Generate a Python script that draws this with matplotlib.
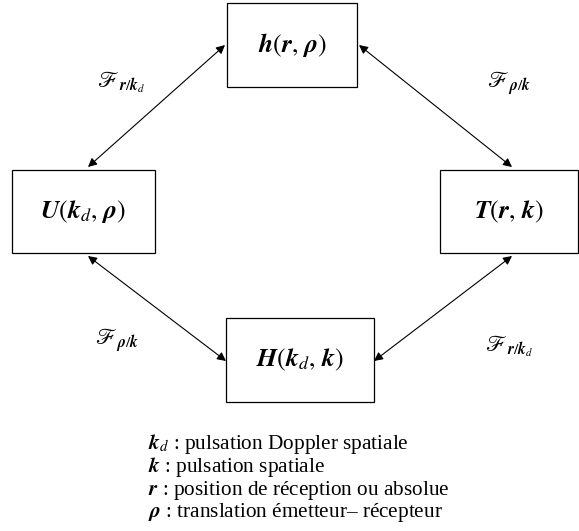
import matplotlib.pyplot as plt
from matplotlib.patches import Rectangle

plt.rcParams['mathtext.fontset'] = 'stix'
plt.rcParams['font.family'] = ['Liberation Serif', 'DejaVu Serif']

# node labels and boxes (pixel coords: x0, y0, x1, y1)
nodes = [r'$\boldsymbol{h}(\boldsymbol{r},\,\boldsymbol{\rho})$',
         r'$\boldsymbol{U}(\boldsymbol{k}_d,\,\boldsymbol{\rho})$',
         r'$\boldsymbol{T}(\boldsymbol{r},\,\boldsymbol{k})$',
         r'$\boldsymbol{H}(\boldsymbol{k}_d,\,\boldsymbol{k})$']
boxes = [(227, 3, 357, 87), (12, 170, 155, 253), (440, 170, 578, 253), (226, 318, 374, 402)]

# transforms on the edges
edge_labels = [r'$\mathscr{F}_{\,\boldsymbol{r}/\boldsymbol{k}_d}$',
               r'$\mathscr{F}_{\,\boldsymbol{\rho}/\boldsymbol{k}}$',
               r'$\mathscr{F}_{\,\boldsymbol{\rho}/\boldsymbol{k}}$',
               r'$\mathscr{F}_{\,\boldsymbol{r}/\boldsymbol{k}_d}$']
edges = [((225, 45), (88, 167)), ((359, 45), (512, 167)),
         ((88, 256), (226, 361)), ((512, 256), (374, 361))]
label_pos = [(121, 82), (509, 84), (117, 341), (509, 346)]

legend = [r'$\boldsymbol{k}_d$ : pulsation Doppler spatiale',
          r'$\boldsymbol{k}$ : pulsation spatiale',
          r'$\boldsymbol{r}$ : position de réception ou absolue',
          r'$\boldsymbol{\rho}$ : translation émetteur– récepteur']

fig = plt.figure(figsize=(5.79, 5.31), dpi=100)
ax = fig.add_axes([0, 0, 1, 1])
ax.set_xlim(0, 579)
ax.set_ylim(531, 0)
ax.axis('off')

for (x0, y0, x1, y1), lab in zip(boxes, nodes):
    ax.add_patch(Rectangle((x0, y0), x1 - x0, y1 - y0, fill=False, lw=0.9, ec='black'))
    ax.text((x0 + x1) / 2, (y0 + y1) / 2, lab, ha='center', va='center', fontsize=18.5)

for (a, b) in edges:
    ax.annotate('', xy=b, xytext=a,
                arrowprops=dict(arrowstyle='<|-|>', color='black', lw=0.8,
                                mutation_scale=13, shrinkA=0, shrinkB=0))

for (x, y), lab in zip(label_pos, edge_labels):
    ax.text(x, y, lab, ha='center', va='center', fontsize=16)

for i, line in enumerate(legend):
    ax.text(148, 444 + i * 23, line, ha='left', va='center', fontsize=15.3)

fig.savefig('out.png', dpi=100)
